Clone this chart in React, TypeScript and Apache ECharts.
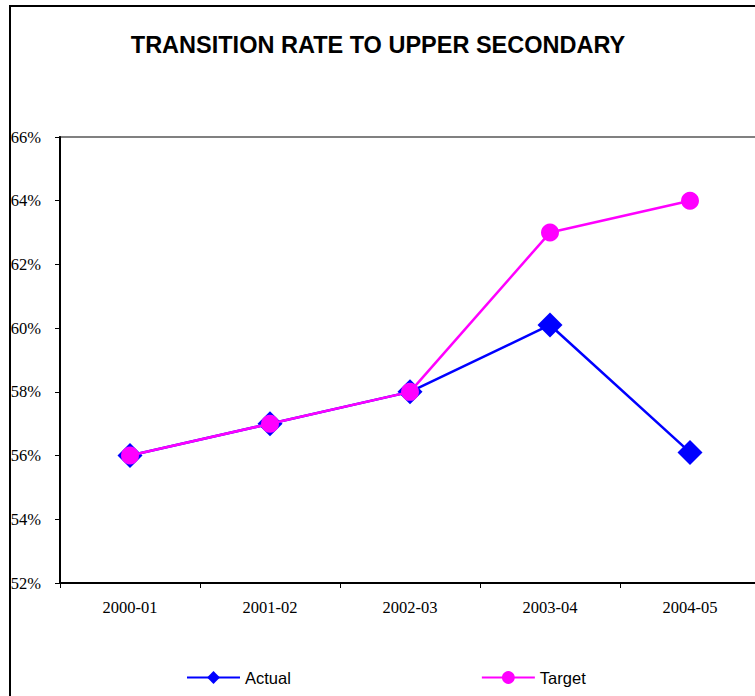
import React, { useEffect, useRef } from "react";
import * as echarts from "echarts";

const categories = ["2000-01", "2001-02", "2002-03", "2003-04", "2004-05"];
const actualValues = [56, 57, 58, 60.1, 56.1];
const targetValues = [56, 57, 58, 63, 64];
const yMin = 52;
const yMax = 66;
const yStep = 2;

export default function App() {
  const ref = useRef<HTMLDivElement>(null);
  useEffect(() => {
    if (!ref.current) return;
    const chart = echarts.init(ref.current, undefined, { renderer: "svg" });
    chart.setOption({
      animation: false,
      backgroundColor: "#ffffff",
      title: {
        text: "TRANSITION RATE TO UPPER SECONDARY",
        left: 373,
        top: 28,
        textAlign: "center",
        textStyle: {
          fontFamily: "Liberation Sans, Arial, sans-serif",
          fontWeight: "bold",
          fontSize: 23.5,
          color: "#000000",
        },
      },
      graphic: [
        {
          type: "rect",
          shape: { x: 10, y: 6, width: 800, height: 800 },
          style: { fill: "none", stroke: "#000000", lineWidth: 2 },
          z: 0,
        },
      ],
      legend: {
        left: 186,
        top: 669,
        padding: 0,
        itemWidth: 53,
        itemHeight: 16,
        itemGap: 190,
        textStyle: {
          fontFamily: "Liberation Sans, Arial, sans-serif",
          fontSize: 16.5,
          color: "#000000",
        },
        data: ["Actual", "Target"],
      },
      grid: {
        left: 60,
        top: 137,
        width: 700,
        height: 446,
        show: true,
        borderColor: "#808080",
        borderWidth: 2,
        backgroundColor: "transparent",
      },
      xAxis: {
        type: "category",
        data: categories,
        boundaryGap: true,
        axisLine: { show: true, lineStyle: { color: "#000000", width: 2 } },
        axisTick: { show: true, length: 5, alignWithLabel: false, lineStyle: { color: "#000000", width: 1 } },
        axisLabel: {
          margin: 16,
          fontFamily: "Liberation Serif, Times New Roman, serif",
          fontSize: 16.5,
          color: "#000000",
        },
        splitLine: { show: false },
      },
      yAxis: {
        type: "value",
        min: yMin,
        max: yMax,
        interval: yStep,
        axisLine: { show: true, lineStyle: { color: "#000000", width: 2 } },
        axisTick: { show: true, length: 5, lineStyle: { color: "#000000", width: 1 } },
        axisLabel: {
          margin: 19,
          formatter: "{value}%",
          fontFamily: "Liberation Serif, Times New Roman, serif",
          fontSize: 16.5,
          color: "#000000",
        },
        splitLine: { show: false },
      },
      series: [
        {
          name: "Actual",
          type: "line",
          data: actualValues,
          symbol: "diamond",
          symbolSize: 25,
          itemStyle: { color: "#0000ff" },
          lineStyle: { color: "#0000ff", width: 2.5 },
          z: 2,
        },
        {
          name: "Target",
          type: "line",
          data: targetValues,
          symbol: "circle",
          symbolSize: 18,
          itemStyle: { color: "#ff00ff" },
          lineStyle: { color: "#ff00ff", width: 2.5 },
          z: 3,
        },
      ],
    });
    return () => chart.dispose();
  }, []);
  return (
    <div
      style={{
        position: "absolute",
        left: 0,
        top: 0,
        width: 755,
        height: 696,
        overflow: "hidden",
        background: "#ffffff",
      }}
    >
      <div ref={ref} style={{ width: 820, height: 720 }} />
    </div>
  );
}
